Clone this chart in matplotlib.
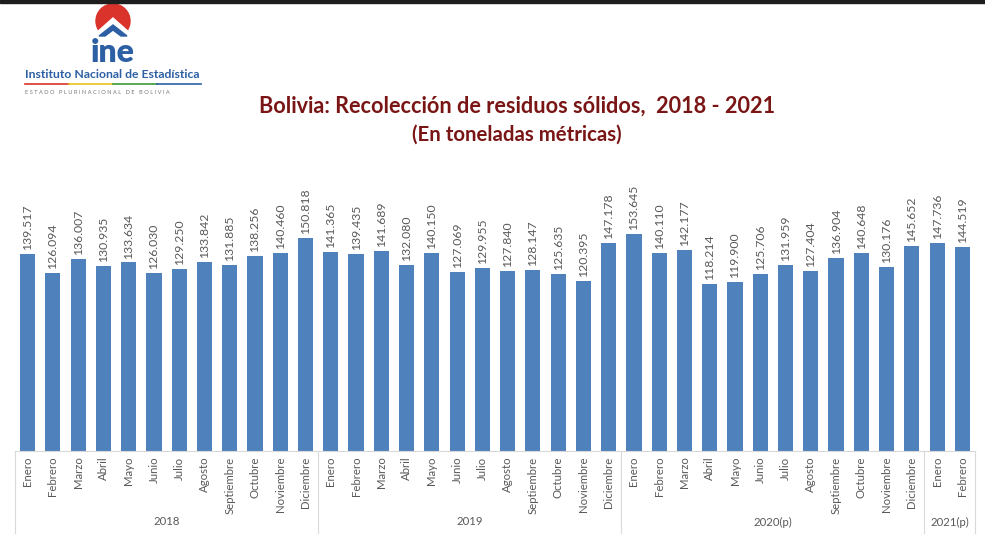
import matplotlib.pyplot as plt
from matplotlib.patches import Rectangle, Circle, Polygon
from matplotlib.transforms import blended_transform_factory
import numpy as np

plt.rcParams["font.family"] = ["Lato", "DejaVu Sans"]

meses = ["Enero", "Febrero", "Marzo", "Abril", "Mayo", "Junio", "Julio", "Agosto",
         "Septiembre", "Octubre", "Noviembre", "Diciembre"]
anios = ["2018", "2019", "2020(p)", "2021(p)"]
meses_por_anio = [12, 12, 12, 2]

v2018 = [139517, 126094, 136007, 130935, 133634, 126030, 129250, 133842, 131885, 138256, 140460, 150818]
v2019 = [141365, 139435, 141689, 132080, 140150, 127069, 129955, 127840, 128147, 125635, 120395, 147178]
v2020 = [153645, 140110, 142177, 118214, 119900, 125706, 131959, 127404, 136904, 140648, 130176, 145652]
v2021 = [147736, 144519]

valores = v2018 + v2019 + v2020 + v2021
etiquetas = meses * 3 + meses[:2]

def fmt(v):
    return "{:,}".format(v).replace(",", ".")

fig = plt.figure(figsize=(9.85, 5.45), dpi=100)
W, H = 985, 545

# barra negra arriba
fig.patches.append(Rectangle((0, 1 - 3 / H), 1, 3 / H, transform=fig.transFigure,
                             color="#1e1e1e", zorder=0))

# logo INE
lg = fig.add_axes([0, 1 - 110 / H, 330 / W, 110 / H])
lg.set_xlim(0, 330)
lg.set_ylim(110, 0)
lg.axis("off")
lg.add_patch(Circle((113, 21), 17, color="#d9332b"))
lg.add_patch(Polygon([[95, 34], [113, 18], [131, 34], [131, 40], [95, 40]], color="white"))
lg.add_patch(Polygon([[99, 36], [113, 25], [127, 36], [121, 36], [113, 30], [105, 36]],
                     color="#2c5fa3"))
lg.text(113, 52, "ine", ha="center", va="center", fontsize=23, fontweight="heavy",
        color="#2c5fa3")
lg.text(25, 75, "Instituto Nacional de Estadística", ha="left", va="center", fontsize=8.8,
        fontweight="bold", color="#2c5fa3")
cols_linea = ["#d9332b", "#e8c21f", "#3a9a3a", "#2c5fa3"]
for i, c in enumerate(cols_linea):
    lg.plot([25 + i * 44, 25 + (i + 1) * 44], [84, 84], color=c, lw=1.2)
lg.text(25, 92, "E S T A D O   P L U R I N A C I O N A L   D E   B O L I V I A", ha="left",
        va="center", fontsize=4.1, color="#777777")

# titulo
fig.text(517 / W, 1 - 106 / H, "Bolivia: Recolección de residuos sólidos,  2018 - 2021",
         ha="center", va="center", fontsize=15.6, fontweight="bold", color="#7a1515")
fig.text(517 / W, 1 - 135 / H, "(En toneladas métricas)",
         ha="center", va="center", fontsize=14.7, fontweight="bold", color="#7a1515")

# grafico
ax = fig.add_axes([15 / W, 1 - 451 / H, 960 / W, 261 / H])
x = np.arange(len(valores))
ax.bar(x, valores, width=0.6, color="#4f81bd")
ax.set_xlim(-0.5, len(valores) - 0.5)
ax.set_ylim(0, 185000)
for xi, v in zip(x, valores):
    ax.text(xi, v + 2800, fmt(v), rotation=90, ha="center", va="bottom",
            fontsize=8.8, color="#595959")

for s in ["top", "right", "left"]:
    ax.spines[s].set_visible(False)
ax.spines["bottom"].set_color("#d9d9d9")
ax.set_yticks([])
ax.set_xticks(x)
ax.set_xticklabels(etiquetas, rotation=90, fontsize=8.2, color="#595959")
ax.tick_params(axis="x", length=0, pad=4)

tr = blended_transform_factory(ax.transData, ax.transAxes)
inicio = -0.5
bordes = [inicio]
for n in meses_por_anio:
    bordes.append(bordes[-1] + n)
for b in bordes:
    ax.plot([b, b], [0, -0.315], color="#d9d9d9", lw=0.8, transform=tr, clip_on=False)
for a, b0, b1 in zip(anios, bordes[:-1], bordes[1:]):
    ax.text((b0 + b1) / 2, -0.272, a, ha="center", va="center", fontsize=8.2,
            color="#595959", transform=tr)

fig.savefig("out.png", dpi=100)
